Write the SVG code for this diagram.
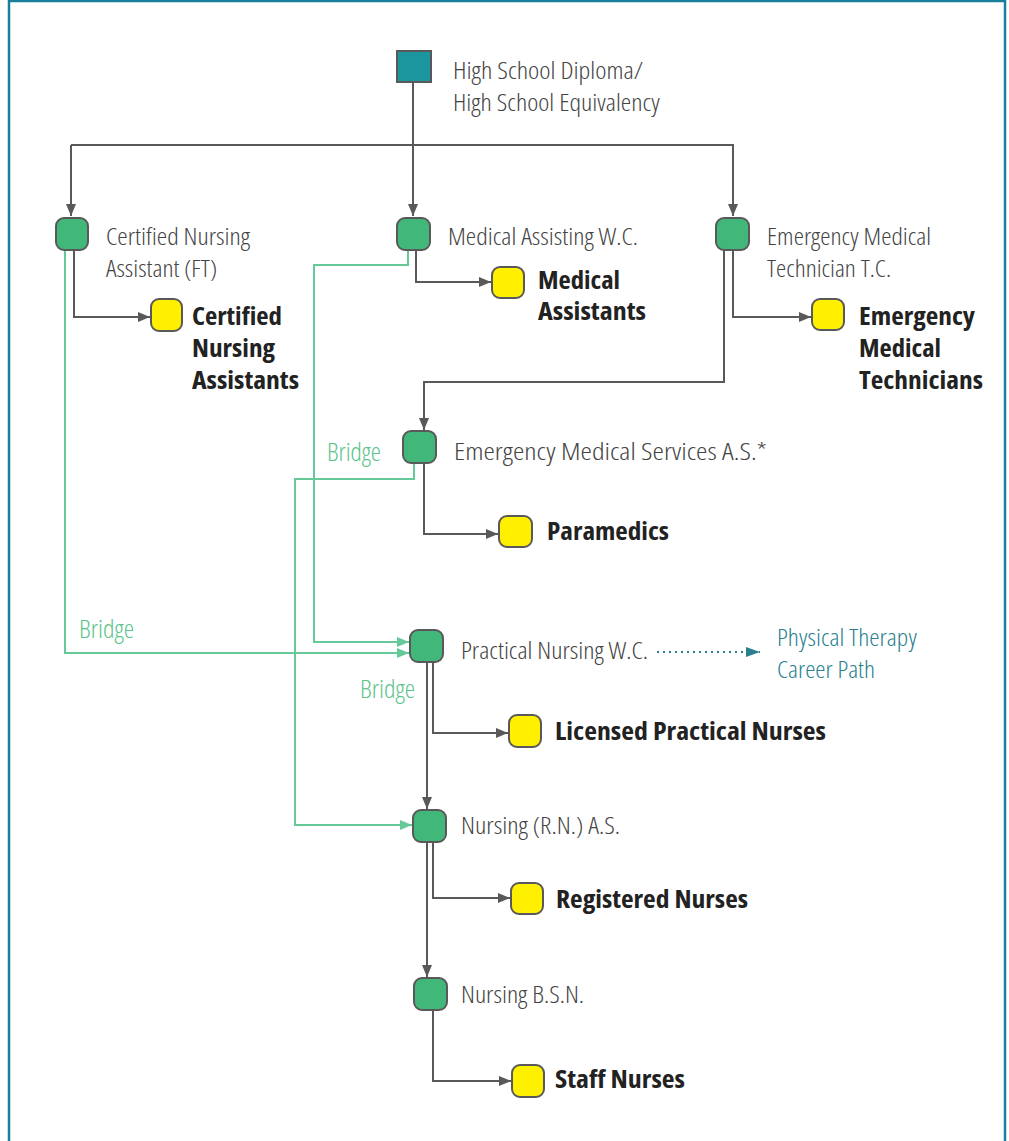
<svg xmlns="http://www.w3.org/2000/svg" width="1009" height="1141" viewBox="0 0 1009 1141">
<style>
.lt{font-family:"Open Sans","Liberation Sans",sans-serif;font-weight:300;font-stretch:condensed;font-size:24px;fill:#444}
.bd{font-family:"Open Sans","Liberation Sans",sans-serif;font-weight:700;font-stretch:condensed;font-size:25px;fill:#222}
.br{font-family:"Open Sans","Liberation Sans",sans-serif;font-weight:300;font-stretch:condensed;font-size:25px;fill:#5cc48c}
.pt{font-family:"Open Sans","Liberation Sans",sans-serif;font-weight:300;font-stretch:condensed;font-size:24px;fill:#2a7f90}
.g{fill:#41b77a;stroke:#595959;stroke-width:2}
.y{fill:#fff000;stroke:#595959;stroke-width:2}
.c{fill:none;stroke:#595959;stroke-width:2}
.b{fill:none;stroke:#66c999;stroke-width:2}
</style>
<defs>
<marker id="ag" viewBox="0 0 12 10" refX="12" refY="5" markerWidth="12" markerHeight="10" markerUnits="userSpaceOnUse" orient="auto"><path d="M0,0L12,5L0,10z" fill="#595959"/></marker>
<marker id="ab" viewBox="0 0 12 10" refX="12" refY="5" markerWidth="12" markerHeight="10" markerUnits="userSpaceOnUse" orient="auto"><path d="M0,0L12,5L0,10z" fill="#66c999"/></marker>
<marker id="at" viewBox="0 0 14 10" refX="14" refY="5" markerWidth="14" markerHeight="10" markerUnits="userSpaceOnUse" orient="auto"><path d="M0,0L14,5L0,10z" fill="#2a7f90"/></marker>
</defs>
<rect x="0" y="0" width="1009" height="1141" fill="#fff"/>
<rect x="9" y="1" width="996" height="1170" fill="none" stroke="#1a7f9a" stroke-width="2.5"/>
<g id="connectors">
<path class="c" d="M413,82V145M71,145H734"/>
<path class="c" d="M71,145V216" marker-end="url(#ag)"/>
<path class="c" d="M413,145V216" marker-end="url(#ag)"/>
<path class="c" d="M733,145V216" marker-end="url(#ag)"/>
<path class="c" d="M74,250V317H150" marker-end="url(#ag)"/>
<path class="c" d="M416,250V282H491" marker-end="url(#ag)"/>
<path class="c" d="M733,250V317H811" marker-end="url(#ag)"/>
<path class="c" d="M724,250V382H424V430" marker-end="url(#ag)"/>
<path class="c" d="M424,464V534H498" marker-end="url(#ag)"/>
<path class="c" d="M433,663V733H508" marker-end="url(#ag)"/>
<path class="c" d="M427,663V809" marker-end="url(#ag)"/>
<path class="c" d="M433,843V898H510" marker-end="url(#ag)"/>
<path class="c" d="M427,843V977" marker-end="url(#ag)"/>
<path class="c" d="M433,1011V1081H511" marker-end="url(#ag)"/>
<path d="M657,652H760" fill="none" stroke="#2a7f90" stroke-width="2" stroke-dasharray="2,4" marker-end="url(#at)"/>
<path class="b" d="M65,250V653H409" marker-end="url(#ab)"/>
<path class="b" d="M408,250V265H314V642H409" marker-end="url(#ab)"/>
<path class="b" d="M414,464V479H295V825H412" marker-end="url(#ab)"/>
</g>
<g id="hs"><rect x="397" y="51" width="34" height="31" fill="#1b959e" stroke="#595959" stroke-width="2"/>
<text class="lt" x="453" y="79" textLength="190" lengthAdjust="spacingAndGlyphs">High School Diploma/</text>
<text class="lt" x="453" y="111" textLength="207" lengthAdjust="spacingAndGlyphs">High School Equivalency</text></g>
<g id="cna"><rect class="g" x="56" y="218" width="32" height="32" rx="8"/>
<text class="lt" x="106" y="245" textLength="144" lengthAdjust="spacingAndGlyphs">Certified Nursing</text>
<text class="lt" x="106" y="277" textLength="111" lengthAdjust="spacingAndGlyphs">Assistant (FT)</text></g>
<g id="ma"><rect class="g" x="397" y="218" width="33" height="32" rx="8"/>
<text class="lt" x="448" y="245" textLength="190" lengthAdjust="spacingAndGlyphs">Medical Assisting W.C.</text></g>
<g id="emt"><rect class="g" x="716" y="218" width="33" height="32" rx="8"/>
<text class="lt" x="767" y="245" textLength="164" lengthAdjust="spacingAndGlyphs">Emergency Medical</text>
<text class="lt" x="767" y="277" textLength="124" lengthAdjust="spacingAndGlyphs">Technician T.C.</text></g>
<g id="cna-out"><rect class="y" x="151" y="299" width="31" height="32" rx="8"/>
<text class="bd" x="192" y="325" textLength="90" lengthAdjust="spacingAndGlyphs">Certified</text>
<text class="bd" x="192" y="357" textLength="83" lengthAdjust="spacingAndGlyphs">Nursing</text>
<text class="bd" x="192" y="389" textLength="107" lengthAdjust="spacingAndGlyphs">Assistants</text></g>
<g id="ma-out"><rect class="y" x="492" y="267" width="32" height="31" rx="8"/>
<text class="bd" x="538" y="289" textLength="82" lengthAdjust="spacingAndGlyphs">Medical</text>
<text class="bd" x="538" y="320" textLength="108" lengthAdjust="spacingAndGlyphs">Assistants</text></g>
<g id="emt-out"><rect class="y" x="812" y="299" width="32" height="31" rx="8"/>
<text class="bd" x="859" y="325" textLength="116" lengthAdjust="spacingAndGlyphs">Emergency</text>
<text class="bd" x="859" y="357" textLength="82" lengthAdjust="spacingAndGlyphs">Medical</text>
<text class="bd" x="859" y="389" textLength="124" lengthAdjust="spacingAndGlyphs">Technicians</text></g>
<g id="ems"><rect class="g" x="403" y="431" width="33" height="32" rx="8"/>
<text class="lt" x="454" y="460" textLength="313" lengthAdjust="spacingAndGlyphs">Emergency Medical Services A.S.*</text>
<text class="br" x="327" y="461" textLength="54" lengthAdjust="spacingAndGlyphs">Bridge</text></g>
<g id="para"><rect class="y" x="499" y="516" width="33" height="31" rx="8"/>
<text class="bd" x="547" y="540" textLength="122" lengthAdjust="spacingAndGlyphs">Paramedics</text></g>
<g id="pn"><rect class="g" x="410" y="630" width="33" height="32" rx="8"/>
<text class="lt" x="461" y="659" textLength="187" lengthAdjust="spacingAndGlyphs">Practical Nursing W.C.</text>
<text class="br" x="79" y="638" textLength="55" lengthAdjust="spacingAndGlyphs">Bridge</text>
<text class="br" x="360" y="698" textLength="55" lengthAdjust="spacingAndGlyphs">Bridge</text></g>
<g id="pt"><text class="pt" x="777" y="646" textLength="140" lengthAdjust="spacingAndGlyphs">Physical Therapy</text>
<text class="pt" x="777" y="678" textLength="98" lengthAdjust="spacingAndGlyphs">Career Path</text></g>
<g id="lpn"><rect class="y" x="509" y="715" width="32" height="32" rx="8"/>
<text class="bd" x="555" y="740" textLength="271" lengthAdjust="spacingAndGlyphs">Licensed Practical Nurses</text></g>
<g id="rn"><rect class="g" x="413" y="810" width="33" height="32" rx="8"/>
<text class="lt" x="461" y="834" textLength="159" lengthAdjust="spacingAndGlyphs">Nursing (R.N.) A.S.</text></g>
<g id="rn-out"><rect class="y" x="511" y="883" width="32" height="31" rx="8"/>
<text class="bd" x="556" y="908" textLength="192" lengthAdjust="spacingAndGlyphs">Registered Nurses</text></g>
<g id="bsn"><rect class="g" x="414" y="978" width="33" height="32" rx="8"/>
<text class="lt" x="461" y="1003" textLength="123" lengthAdjust="spacingAndGlyphs">Nursing B.S.N.</text></g>
<g id="staff"><rect class="y" x="512" y="1065" width="32" height="32" rx="8"/>
<text class="bd" x="555" y="1088" textLength="130" lengthAdjust="spacingAndGlyphs">Staff Nurses</text></g>
</svg>
